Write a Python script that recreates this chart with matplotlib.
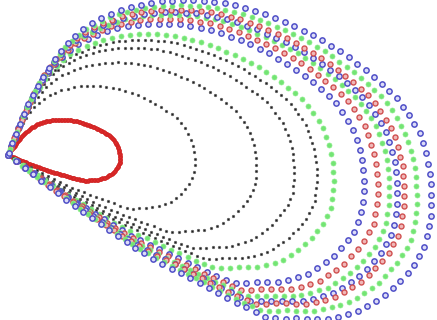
import numpy as np
import matplotlib
matplotlib.use("Agg")
import matplotlib.pyplot as plt

# loops from the innermost to the outermost
colors = ["red", "black", "black", "black", "black", "green", "blue",
          "red", "green", "blue", "red", "green", "blue"]
reach = [112, 187, 249, 287, 310, 327, 358, 372, 384, 392, 399, 412, 427]
lo_deg = [-23, -29, -31, -32.5, -33.5, -34.5, -35.5, -36, -36.5, -37, -37, -37.5, -38]
hi_deg = [56, 68, 69, 70, 70, 70, 70, 70, 70, 70, 70, 70, 70]

# loop outline: share of the angle span -> share of the reach
prof_u = [0, .006, .02, .035, .055, .08, .10, .13, .17, .21, .24, .28, .33, .38,
          .43, .46, .50, .54, .58, .65, .70, .75, .81, .85, .89, .93, .96, .985, 1]
prof_r = [0, .17, .40, .50, .72, .78, .84, .90, .95, .985, 1.0, 1.0, .99, .965,
          .92, .88, .83, .78, .73, .65, .59, .53, .46, .41, .36, .29, .21, .12, 0]

styles = {
    "black": dict(marker="o", ms=1.8, mfc="#202020", mec="#606060", mew=0.5, step=6.5),
    "green": dict(marker="o", ms=3.6, mfc="#74e474", mec="#8aee8a", mew=0.5, step=9.0),
    "red": dict(marker="o", ms=3.6, mfc="#f0b8b8", mec="#d05050", mew=1.0, step=10.0),
    "blue": dict(marker="o", ms=3.8, mfc="#dcdcf8", mec="#5050c8", mew=1.1, step=10.5),
}


def loop_points(R, lo, hi, step):
    u = np.linspace(0, 1, 4000)
    th = np.radians(lo + u * (hi - lo))
    r = R * np.interp(u, prof_u, prof_r)
    x, y = r * np.cos(th), r * np.sin(th)
    s = np.concatenate([[0], np.cumsum(np.hypot(np.diff(x), np.diff(y)))])
    ss = np.arange(0, s[-1], step)
    return np.interp(ss, s, x), np.interp(ss, s, y)


fig = plt.figure(figsize=(4.37, 3.2), dpi=100)
ax = fig.add_axes([0, 0, 1, 1])

for i, c in enumerate(colors):
    st = dict(styles[c])
    step = st.pop("step")
    if i == 0:
        # the small red loop is drawn very dense
        st = dict(marker="o", ms=2.6, mfc="#e03030", mec="#d02020", mew=0.6)
        step = 1.5
    x, y = loop_points(reach[i], lo_deg[i], hi_deg[i], step)
    ax.plot(x, y, linestyle="none", **st)

ax.set_xlim(-8, 429)
ax.set_ylim(-165, 155)
ax.axis("off")
fig.savefig("out.png", dpi=100)
